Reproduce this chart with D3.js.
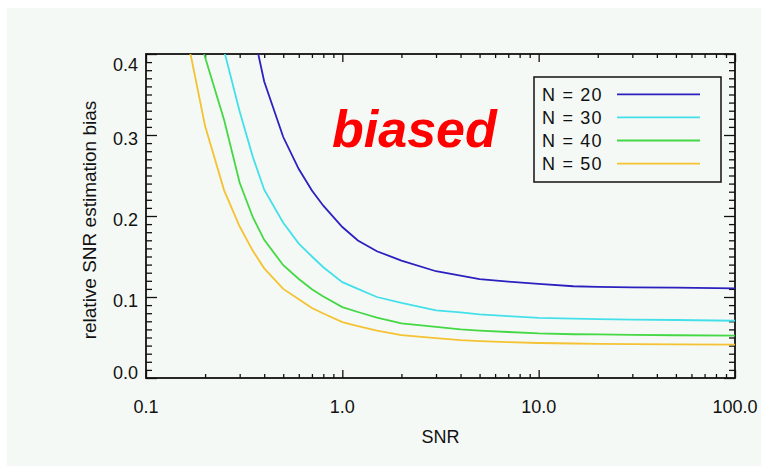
<!DOCTYPE html>
<html>
<head>
<meta charset="utf-8">
<script src="https://cdn.jsdelivr.net/npm/d3@7"></script>
<style>
  html, body { margin: 0; padding: 0; background: #ffffff; }
  svg { display: block; }
  text { font-family: "Liberation Sans", Arial, Helvetica, sans-serif; fill: #111; }
</style>
</head>
<body>
<svg id="chart" width="761" height="466"></svg>
<script>
// ---- data ----
const snr = [0.15, 0.17, 0.2, 0.25, 0.3, 0.35, 0.4, 0.5, 0.6, 0.7, 0.8, 1.0, 1.2, 1.5, 2, 3, 4, 5, 7, 10, 15, 20, 30, 50, 100];
const biasN20 = [0.80, 0.76, 0.70, 0.60, 0.506, 0.431, 0.366, 0.2975, 0.258, 0.2315, 0.2127, 0.1864, 0.1698, 0.1565, 0.145, 0.1318, 0.1263, 0.122, 0.1189, 0.1162, 0.1133, 0.1125, 0.112, 0.1115, 0.1107];
const biasN30 = [0.61, 0.56, 0.496, 0.404, 0.329, 0.273, 0.2325, 0.1917, 0.166, 0.150, 0.1367, 0.1183, 0.1101, 0.100, 0.0927, 0.0836, 0.0809, 0.0786, 0.0763, 0.0743, 0.0732, 0.0726, 0.0721, 0.0716, 0.0707];
const biasN40 = [0.517, 0.465, 0.396, 0.3185, 0.241, 0.1985, 0.1706, 0.1393, 0.1222, 0.1096, 0.1005, 0.0875, 0.0815, 0.0746, 0.0674, 0.0631, 0.060, 0.0585, 0.0568, 0.055, 0.054, 0.0538, 0.0533, 0.0528, 0.0522];
const biasN50 = [0.448, 0.3956, 0.311, 0.2317, 0.187, 0.157, 0.1354, 0.110, 0.0972, 0.0865, 0.0796, 0.0691, 0.0641, 0.0585, 0.053, 0.0493, 0.0468, 0.0456, 0.0444, 0.0432, 0.0426, 0.0422, 0.0417, 0.0414, 0.0411];
const seriesNames = ["N = 20", "N = 30", "N = 40", "N = 50"];
const seriesColors = ["#2c20c0", "#44e0ea", "#44d844", "#f4c232"];
const xTickValues = [0.1, 1, 10, 100];
const xTickLabels = ["0.1", "1.0", "10.0", "100.0"];
const yTickValues = [0.0, 0.1, 0.2, 0.3, 0.4];
const yTickLabels = ["0.0", "0.1", "0.2", "0.3", "0.4"];

const allSeries = [biasN20, biasN30, biasN40, biasN50];

// ---- layout ----
const svg = d3.select("#chart");
const L = 146, R = 735, T = 54, B = 378;

svg.append("rect").attr("x", 7).attr("y", 8).attr("width", 754).attr("height", 458).attr("fill", "#f5f9f5");

const x = d3.scaleLog().domain([0.1, 100]).range([L, R]);
const y = d3.scaleLinear().domain([0, 0.4]).range([B, T]);

// clip
svg.append("clipPath").attr("id", "plotclip").append("rect")
  .attr("x", L).attr("y", T).attr("width", R - L).attr("height", B - T);

// minor ticks
const xMinor = [];
[0.1, 1, 10].forEach(d => { for (let k = 2; k <= 9; k++) xMinor.push(d * k); });
const yMinor = d3.range(0, 41).map(i => i / 100).filter(v => Math.round(v * 100) % 10 !== 0);

function drawAxis(axisGen, transform) {
  const g = svg.append("g").attr("transform", transform).call(axisGen);
  g.select(".domain").remove();
  g.selectAll("line").attr("stroke", "#111").attr("stroke-width", 1.3);
  g.selectAll("text").remove();
  return g;
}
// bottom & top
drawAxis(d3.axisBottom(x).tickValues(xTickValues).tickSize(-8), `translate(0,${B})`);
drawAxis(d3.axisBottom(x).tickValues(xMinor).tickSize(-4), `translate(0,${B})`);
drawAxis(d3.axisTop(x).tickValues(xTickValues).tickSize(-8), `translate(0,${T})`);
drawAxis(d3.axisTop(x).tickValues(xMinor).tickSize(-4), `translate(0,${T})`);
// left & right
drawAxis(d3.axisLeft(y).tickValues(yTickValues).tickSize(-11), `translate(${L},0)`);
drawAxis(d3.axisLeft(y).tickValues(yMinor).tickSize(-6), `translate(${L},0)`);
drawAxis(d3.axisRight(y).tickValues(yTickValues).tickSize(-11), `translate(${R},0)`);
drawAxis(d3.axisRight(y).tickValues(yMinor).tickSize(-6), `translate(${R},0)`);

// frame
svg.append("rect").attr("x", L).attr("y", T).attr("width", R - L).attr("height", B - T)
  .attr("fill", "none").attr("stroke", "#111").attr("stroke-width", 1.8);

// tick labels
svg.append("g").selectAll("text").data(xTickValues).join("text")
  .attr("x", d => x(d)).attr("y", B + 35)
  .attr("text-anchor", "middle").attr("font-size", 18)
  .text((d, i) => xTickLabels[i]);

const yNudge = (i) => i === 0 ? 1 : (i === yTickValues.length - 1 ? 17 : 10);
svg.append("g").selectAll("text").data(yTickValues).join("text")
  .attr("x", L - 8).attr("y", (d, i) => y(d) + yNudge(i))
  .attr("text-anchor", "end").attr("font-size", 18)
  .text((d, i) => yTickLabels[i]);

// axis titles
svg.append("text").attr("x", (L + R) / 2).attr("y", 443)
  .attr("text-anchor", "middle").attr("font-size", 18).text("SNR");
svg.append("text").attr("transform", "translate(96,220) rotate(-90)")
  .attr("text-anchor", "middle").attr("font-size", 19).text("relative SNR estimation bias");

// curves
const line = d3.line().x((d, i) => x(snr[i])).y(d => y(d));
svg.append("g").attr("clip-path", "url(#plotclip)")
  .selectAll("path").data(allSeries).join("path")
  .attr("d", d => line(d))
  .attr("fill", "none")
  .attr("stroke", (d, i) => seriesColors[i])
  .attr("stroke-width", 1.8);

// annotation
svg.append("text").attr("x", 332).attr("y", 147)
  .attr("font-size", 52).attr("font-weight", "bold").attr("font-style", "italic")
  .style("fill", "#ff0000").text("biased");

// legend
const lg = svg.append("g");
lg.append("rect").attr("x", 534).attr("y", 77).attr("width", 187).attr("height", 105)
  .attr("fill", "none").attr("stroke", "#111").attr("stroke-width", 1.5);
seriesNames.forEach((name, i) => {
  const cy = 94.3 + i * 23.1;
  lg.append("text").attr("x", 542).attr("y", cy + 6.5).attr("font-size", 18)
    .attr("xml:space", "preserve").style("letter-spacing", "1.2px").text(name);
  lg.append("line").attr("x1", 617).attr("x2", 700).attr("y1", cy).attr("y2", cy)
    .attr("stroke", seriesColors[i]).attr("stroke-width", 1.8);
});
</script>
</body>
</html>
